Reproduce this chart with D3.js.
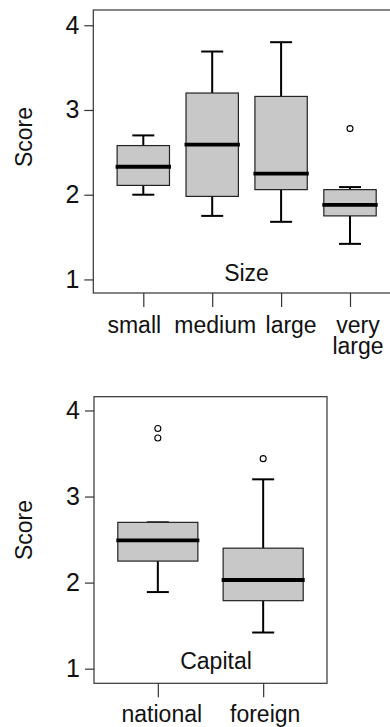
<!DOCTYPE html>
<html>
<head>
<meta charset="utf-8">
<script src="https://cdn.jsdelivr.net/npm/d3@7"></script>
<style>
  html, body { margin: 0; padding: 0; background: #fff; }
  svg { display: block; }
  text { font-family: 'Liberation Sans', Arial, sans-serif; }
</style>
</head>
<body>
<svg id="chart"></svg>
<script>
// Score ticks shared by both panels
const scoreTicks = [1, 2, 3, 4];

// Size panel: whisker low, Q1, median, Q3, whisker high, outliers
const sizeCategories = ['small', 'medium', 'large', 'very large'];
const sizeLow = [2.0, 1.75, 1.68, 1.42];
const sizeQ1 = [2.11, 1.98, 2.06, 1.75];
const sizeMedian = [2.33, 2.59, 2.25, 1.88];
const sizeQ3 = [2.58, 3.2, 3.16, 2.06];
const sizeHigh = [2.7, 3.69, 3.8, 2.09];
const sizeOutliers = [[], [], [], [2.78]];

// Capital panel
const capitalCategories = ['national', 'foreign'];
const capitalLow = [1.89, 1.42];
const capitalQ1 = [2.25, 1.79];
const capitalMedian = [2.49, 2.03];
const capitalQ3 = [2.7, 2.4];
const capitalHigh = [2.7, 3.2];
const capitalOutliers = [[3.68, 3.79], [3.44]];

const W = 390;
const H = 727;
const FONT = 23;
const TICK_FONT = 25;

const svg = d3.select('#chart').attr('width', W).attr('height', H);

svg.append('rect').attr('width', W).attr('height', H).attr('fill', '#fff');

function drawPanel(p) {
  const x = d3
    .scalePoint()
    .domain(p.categories)
    .range([p.frame.left, p.frame.right])
    .padding(p.padding);

  const y = d3
    .scaleLinear()
    .domain(p.yDomain)
    .range([p.frame.bottom, p.frame.top]);

  const boxWidth = x.step() * 0.76;
  const capWidth = 22;

  const rows = p.categories.map((c, i) => ({
    cat: c,
    low: p.low[i],
    q1: p.q1[i],
    med: p.median[i],
    q3: p.q3[i],
    high: p.high[i],
    out: p.outliers[i],
  }));

  const g = svg.append('g');

  //
  // Boxes
  //

  const boxes = g
    .selectAll('g.box')
    .data(rows)
    .join('g')
    .attr('class', 'box')
    .attr('transform', (d) => `translate(${x(d.cat)},0)`);

  // whiskers
  boxes
    .append('line')
    .attr('y1', (d) => y(d.q3))
    .attr('y2', (d) => y(d.high))
    .attr('stroke', '#000')
    .attr('stroke-width', 2);

  boxes
    .append('line')
    .attr('y1', (d) => y(d.q1))
    .attr('y2', (d) => y(d.low))
    .attr('stroke', '#000')
    .attr('stroke-width', 2);

  // caps
  boxes
    .append('line')
    .attr('x1', -capWidth / 2)
    .attr('x2', capWidth / 2)
    .attr('y1', (d) => y(d.high))
    .attr('y2', (d) => y(d.high))
    .attr('stroke', '#000')
    .attr('stroke-width', 2);

  boxes
    .append('line')
    .attr('x1', -capWidth / 2)
    .attr('x2', capWidth / 2)
    .attr('y1', (d) => y(d.low))
    .attr('y2', (d) => y(d.low))
    .attr('stroke', '#000')
    .attr('stroke-width', 2);

  // box
  boxes
    .append('rect')
    .attr('x', -boxWidth / 2)
    .attr('width', boxWidth)
    .attr('y', (d) => y(d.q3))
    .attr('height', (d) => y(d.q1) - y(d.q3))
    .attr('fill', '#c8c8c8')
    .attr('stroke', '#222')
    .attr('stroke-width', 1.2);

  // median
  boxes
    .append('line')
    .attr('x1', -boxWidth / 2 - 1.5)
    .attr('x2', boxWidth / 2 + 1.5)
    .attr('y1', (d) => y(d.med))
    .attr('y2', (d) => y(d.med))
    .attr('stroke', '#000')
    .attr('stroke-width', 3.8);

  // outliers
  boxes
    .selectAll('circle')
    .data((d) => d.out)
    .join('circle')
    .attr('cx', 0)
    .attr('cy', (v) => y(v))
    .attr('r', 3)
    .attr('fill', 'none')
    .attr('stroke', '#000')
    .attr('stroke-width', 1.1);

  //
  // Frame
  //

  g.append('rect')
    .attr('x', p.frame.left)
    .attr('y', p.frame.top)
    .attr('width', p.frame.right - p.frame.left)
    .attr('height', p.frame.bottom - p.frame.top)
    .attr('fill', 'none')
    .attr('stroke', '#333')
    .attr('stroke-width', 1.2);

  //
  // Y axis
  //

  const yAxis = g
    .append('g')
    .attr('transform', `translate(${p.frame.left},0)`)
    .call(
      d3
        .axisLeft(y)
        .tickValues(scoreTicks)
        .tickSize(9)
        .tickPadding(5)
        .tickFormat(d3.format('d')),
    );

  yAxis.select('.domain').remove();
  yAxis.selectAll('line').attr('stroke', '#333').attr('stroke-width', 1.2);
  yAxis
    .selectAll('text')
    .attr('font-size', TICK_FONT)
    .attr('font-family', "'Liberation Sans', Arial, sans-serif")
    .attr('fill', '#111');

  //
  // X axis (ticks only, labels below)
  //

  const xAxis = g
    .append('g')
    .attr('transform', `translate(0,${p.frame.bottom})`)
    .call(d3.axisBottom(x).tickSize(14).tickFormat(''));

  xAxis.select('.domain').remove();
  xAxis.selectAll('line').attr('stroke', '#333').attr('stroke-width', 1.2);

  const labels = g
    .selectAll('text.cat')
    .data(p.categories)
    .join('text')
    .attr('class', 'cat')
    .attr('x', (d, i) => x(d) + p.labelNudge[i])
    .attr('y', p.labelY)
    .attr('text-anchor', 'middle')
    .attr('font-size', FONT)
    .attr('fill', '#111');

  labels
    .selectAll('tspan')
    .data((d, i) => d.split(' ').map((t) => ({ t, x: x(d) + p.labelNudge[i] })))
    .join('tspan')
    .attr('x', (d) => d.x)
    .attr('dy', (d, j) => (j === 0 ? 0 : 21))
    .text((d) => d.t);

  //
  // Panel title and y label
  //

  g.append('text')
    .attr('x', p.titleX)
    .attr('y', p.titleY)
    .attr('text-anchor', 'middle')
    .attr('font-size', FONT)
    .attr('fill', '#111')
    .text(p.title);

  g.append('text')
    .attr('transform', `translate(24,${p.scoreY}) rotate(-90)`)
    .attr('text-anchor', 'middle')
    .attr('dy', '0.35em')
    .attr('font-size', FONT)
    .attr('fill', '#111')
    .text('Score');
}

drawPanel({
  categories: sizeCategories,
  low: sizeLow,
  q1: sizeQ1,
  median: sizeMedian,
  q3: sizeQ3,
  high: sizeHigh,
  outliers: sizeOutliers,
  frame: { left: 93.3, right: 400, top: 10, bottom: 293 },
  padding: 0.7256,
  yDomain: [0.84, 4.18],
  labelY: 333,
  labelNudge: [-9, 3, 10, 8],
  title: 'Size',
  titleX: 246.5,
  titleY: 280.5,
  scoreY: 137,
});

drawPanel({
  categories: capitalCategories,
  low: capitalLow,
  q1: capitalQ1,
  median: capitalMedian,
  q3: capitalQ3,
  high: capitalHigh,
  outliers: capitalOutliers,
  frame: { left: 94, right: 327, top: 396.7, bottom: 683.3 },
  padding: 0.606,
  yDomain: [0.83, 4.16],
  labelY: 721.5,
  labelNudge: [4, 2],
  title: 'Capital',
  titleX: 216,
  titleY: 669,
  scoreY: 530,
});
</script>
</body>
</html>
